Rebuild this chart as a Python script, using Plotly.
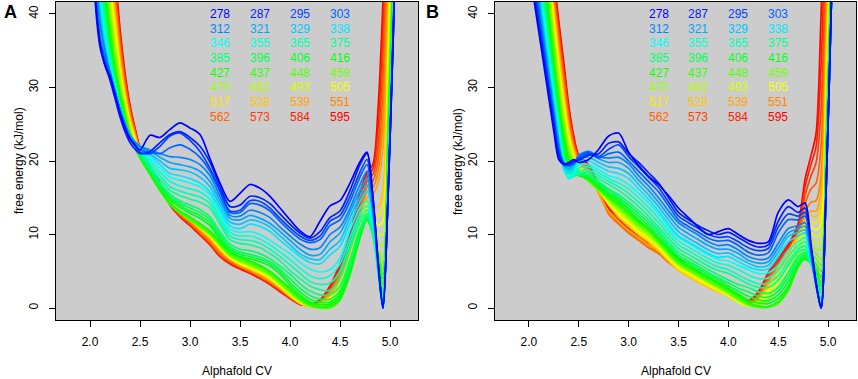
import colorsys
import plotly.graph_objects as go

# ---------------- data ----------------
TEMPS = [278, 287, 295, 303, 312, 321, 329, 338, 346, 355, 365, 375, 385, 396, 406, 416,
         427, 437, 448, 459, 470, 482, 493, 505, 517, 528, 539, 551, 562, 573, 584, 595]

X = [2.0, 2.05, 2.1, 2.15, 2.2, 2.25, 2.3, 2.35, 2.4, 2.45, 2.5,
     2.6, 2.7, 2.8, 2.9, 3.0, 3.1, 3.2, 3.3, 3.4, 3.5,
     3.6, 3.7, 3.8, 3.9, 4.0, 4.1, 4.2, 4.3, 4.4, 4.5,
     4.6, 4.7, 4.77, 4.83, 4.88, 4.93, 4.98, 5.03, 5.08]

X_TICKS = [2.0, 2.5, 3.0, 3.5, 4.0, 4.5, 5.0]
Y_TICKS = [0, 10, 20, 30, 40]

# Panel A free-energy profiles (kJ/mol), one list per temperature
A278 = [58, 43, 36, 33, 31.5, 29, 26.5, 24.5, 23, 22.2, 21.5,
        23.5, 23.2, 24.3, 25.2, 24.5, 23.6, 20.3, 17.0, 14.5, 15.6,
        16.8, 16.3, 15.2, 13.6, 12.0, 10.5, 9.7, 11.8, 13.9, 14.6,
        17.0, 19.9, 21.2, 15.0, 6.5, 0, 15, 36, 60]
A287 = [57, 42, 35.5, 33, 31, 28.5, 26, 24, 22.5, 21.6, 21.0,
        21.3, 22.5, 23.6, 24.0, 23.2, 22.0, 19.8, 16.5, 13.8, 14.0,
        15.2, 15.0, 14.2, 12.8, 11.4, 10.2, 9.5, 10.4, 12.3, 13.2,
        16.0, 19.5, 21.0, 15.0, 6.5, 0, 15, 36, 60]
A295 = [58, 43, 36, 33.5, 31.5, 29, 26.5, 24.5, 23, 22.0, 21.2,
        21.0, 22.0, 23.4, 23.8, 22.8, 21.3, 19.0, 16.0, 13.2, 13.3,
        14.6, 14.5, 13.6, 12.2, 10.9, 9.8, 9.2, 9.8, 11.8, 12.6,
        15.2, 18.5, 20.2, 14.5, 6.3, 0, 15, 36, 60]
A303 = [60, 44, 37, 34, 32, 29.5, 27, 25, 23.2, 22.2, 21.5,
        21.2, 21.0, 21.8, 22.2, 21.6, 20.5, 18.6, 15.8, 13.0, 13.0,
        14.2, 14.0, 13.2, 11.8, 10.5, 9.4, 8.9, 9.3, 11.2, 12.0,
        14.5, 17.8, 19.5, 14.0, 6.2, 0, 15, 36, 60]
A312 = [62, 46, 38.5, 35, 32, 29.5, 27, 25, 23.3, 22.5, 22.0,
        21.5, 21.0, 20.6, 20.5, 20.2, 19.5, 18.0, 15.2, 12.6, 12.5,
        13.3, 13.0, 12.3, 11.0, 9.8, 8.7, 8.0, 8.2, 10.0, 11.0,
        13.6, 16.8, 18.6, 13.5, 6.0, 0, 15.5, 37, 60]
A321 = [63, 47, 39, 35, 32, 29.5, 27, 25, 23.5, 22.6, 22.0,
        21.3, 20.5, 19.8, 19.5, 19.2, 18.6, 17.2, 14.6, 12.2, 12.0,
        12.6, 12.2, 11.5, 10.4, 9.2, 8.0, 7.2, 7.3, 9.0, 10.2,
        13.0, 16.0, 17.7, 13.0, 5.8, 0, 15.5, 37, 60]
A329 = [65, 48, 40, 35.5, 32, 29.5, 27, 25, 23.5, 22.6, 22.0,
        21.0, 20.0, 19.0, 18.8, 18.5, 17.8, 16.5, 14.0, 11.7, 11.4,
        12.0, 11.7, 11.0, 9.8, 8.6, 7.4, 6.7, 6.6, 8.0, 9.2,
        12.3, 15.2, 16.8, 12.5, 5.5, 0, 15.5, 37, 60]
A338 = [66, 49, 41, 36, 32.5, 29.5, 27, 25, 23.5, 22.6, 22.0,
        20.8, 19.5, 18.3, 18.0, 17.6, 17.0, 15.8, 13.4, 11.2, 10.8,
        11.4, 11.1, 10.4, 9.2, 8.1, 7.0, 6.2, 6.0, 7.2, 8.4,
        11.5, 14.5, 15.9, 12.0, 5.2, 0, 15.5, 37, 60]
A346 = [68, 51, 42, 36.5, 32.5, 29.5, 27, 25, 23.5, 22.6, 22.0,
        20.4, 19.0, 17.8, 17.4, 17.0, 16.5, 15.4, 13.0, 10.8, 10.3,
        10.4, 10.0, 9.2, 8.3, 7.4, 6.2, 5.3, 4.9, 5.2, 6.8,
        10.6, 13.6, 14.5, 11.3, 5.0, 0, 16, 38, 61]
A355 = [69, 52, 43, 37, 33, 30, 27, 25, 23.3, 22.4, 21.8,
        20.0, 18.5, 17.2, 16.6, 16.2, 15.8, 14.8, 12.4, 10.3, 9.8,
        9.8, 9.4, 8.6, 7.6, 6.6, 5.4, 4.4, 4.0, 4.4, 6.0,
        9.6, 12.8, 13.9, 11.0, 5.0, 0.2, 16, 38, 61]
A365 = [70, 54, 44, 38, 33.5, 30, 27.2, 25, 23.3, 22.2, 21.5,
        19.6, 18.0, 16.5, 15.9, 15.5, 15.1, 14.2, 11.9, 9.8, 9.3,
        9.2, 8.8, 8.0, 7.0, 5.9, 4.7, 3.6, 3.2, 3.4, 5.0,
        8.8, 12.2, 13.3, 10.6, 5.2, 0.5, 16.5, 38, 61]
A375 = [72, 55, 45, 38.5, 34, 30.5, 27.5, 25, 23.3, 22.1, 21.3,
        19.2, 17.5, 16.0, 15.3, 14.8, 14.4, 13.6, 11.4, 9.3, 8.8,
        8.6, 8.2, 7.4, 6.4, 5.1, 4.0, 3.0, 2.5, 2.4, 4.0,
        8.0, 11.6, 12.8, 10.4, 5.4, 0.8, 17, 39, 61]
A385 = [73, 56, 46, 39.5, 34.5, 31, 27.8, 25.2, 23.2, 22.0, 21.0,
        19.0, 17.0, 15.5, 14.6, 14.0, 13.4, 12.4, 10.4, 8.7, 8.0,
        7.8, 7.4, 6.7, 5.7, 4.6, 3.3, 2.3, 1.8, 1.8, 3.0,
        6.6, 10.8, 12.5, 9.8, 5.2, 1.2, 18, 40, 62]
A396 = [74, 58, 47, 40, 35, 31.5, 28, 25.3, 23.2, 21.9, 20.8,
        18.8, 16.8, 15.2, 14.3, 13.6, 13.0, 12.0, 10.0, 8.3, 7.6,
        7.3, 6.9, 6.3, 5.3, 4.0, 2.7, 1.7, 1.2, 1.2, 2.4,
        6.0, 10.4, 12.3, 9.9, 5.6, 1.8, 18.5, 41, 62]
A406 = [75, 59, 48, 41, 35.5, 31.5, 28.2, 25.5, 23.2, 21.8, 20.6,
        18.6, 16.6, 15.0, 14.0, 13.2, 12.6, 11.6, 9.6, 8.0, 7.3,
        7.0, 6.6, 6.0, 5.0, 3.5, 2.2, 1.2, 0.8, 0.8, 2.0,
        5.5, 10.0, 12.1, 10.0, 6.0, 2.5, 19, 41, 63]
A416 = [76, 60, 49, 42, 36, 32, 28.5, 25.6, 23.3, 21.8, 20.5,
        18.4, 16.4, 14.7, 13.7, 12.9, 12.2, 11.2, 9.3, 7.7, 7.0,
        6.7, 6.3, 5.7, 4.6, 3.1, 1.8, 0.8, 0.5, 0.5, 1.6,
        5.0, 9.7, 12.0, 10.0, 6.3, 3.2, 20, 42, 63]
A427 = [77, 62, 50.5, 43, 37, 32.5, 29, 26, 23.5, 21.9, 20.5,
        18.2, 16.0, 14.3, 13.2, 12.4, 11.5, 10.5, 9.0, 7.6, 6.9,
        6.4, 5.8, 5.0, 3.9, 2.7, 1.5, 0.6, 0.2, 0.3, 1.2,
        4.6, 9.5, 12.0, 10.0, 6.5, 4.0, 22, 44, 64]
A437 = [78, 63, 51.5, 44, 38, 33, 29.3, 26.2, 23.6, 21.9, 20.4,
        18.2, 16.0, 14.1, 13.0, 12.2, 11.3, 10.3, 8.8, 7.4, 6.7,
        6.2, 5.6, 4.8, 3.7, 2.5, 1.3, 0.4, 0.1, 0.1, 1.1,
        4.6, 9.6, 12.2, 10.2, 6.9, 4.6, 23, 45, 64]
A448 = [79, 64, 53, 45, 38.5, 33.5, 29.6, 26.4, 23.8, 22.0, 20.5,
        18.3, 16.1, 14.1, 12.9, 12.0, 11.1, 10.1, 8.6, 7.2, 6.5,
        6.0, 5.4, 4.6, 3.5, 2.3, 1.1, 0.3, 0, 0, 1.1,
        4.8, 9.7, 12.4, 10.4, 7.3, 5.3, 24, 46, 65]
A459 = [80, 66, 54, 46, 39.5, 34, 30, 26.6, 24, 22.1, 20.6,
        18.4, 16.2, 14.2, 12.9, 11.9, 11.0, 10.0, 8.5, 7.1, 6.4,
        5.9, 5.3, 4.5, 3.4, 2.2, 1.0, 0.2, 0, 0.1, 1.3,
        5.0, 9.8, 12.6, 10.6, 7.7, 6.0, 25, 47, 66]
A470 = [81, 67, 55.5, 47, 40.5, 35, 30.5, 27, 24.2, 22.3, 20.7,
        18.5, 16.3, 14.3, 13.0, 12.0, 11.0, 10.0, 8.5, 7.1, 6.4,
        5.8, 5.2, 4.4, 3.3, 2.1, 1.0, 0.3, 0.1, 0.3, 1.6,
        5.2, 9.8, 12.8, 10.8, 8.0, 7.0, 27, 48, 68]
A482 = [82, 68, 57, 48.5, 41.5, 36, 31, 27.5, 24.5, 22.5, 20.8,
        18.6, 16.4, 14.4, 13.1, 12.1, 11.0, 10.0, 8.4, 7.1, 6.3,
        5.7, 5.1, 4.3, 3.2, 2.0, 0.9, 0.3, 0.2, 0.5, 2.0,
        5.6, 10.2, 13.2, 11.5, 9.0, 8.5, 29, 50, 70]
A493 = [83, 70, 58, 49.5, 42.5, 36.5, 31.5, 27.8, 24.7, 22.7, 20.9,
        18.6, 16.4, 14.4, 13.2, 12.2, 11.0, 9.9, 8.3, 7.0, 6.2,
        5.6, 5.0, 4.2, 3.1, 1.9, 0.9, 0.3, 0.3, 0.8, 2.4,
        6.0, 10.6, 13.6, 12.2, 10.0, 10.0, 31, 52, 71]
A505 = [84, 71, 59.5, 50.5, 43.5, 37.5, 32, 28.2, 25, 22.9, 21.0,
        18.7, 16.5, 14.5, 13.2, 12.2, 11.0, 9.8, 8.2, 6.9, 6.1,
        5.5, 4.9, 4.1, 3.0, 1.8, 0.8, 0.2, 0.4, 1.0, 2.8,
        6.4, 11.0, 14.0, 12.9, 11.2, 11.8, 33, 54, 72]
A517 = [85, 72, 60.5, 51.5, 44.5, 38.5, 32.8, 28.6, 25.3, 23.1, 21.1,
        18.7, 16.5, 14.5, 13.1, 12.1, 10.9, 9.7, 8.1, 6.8, 6.0,
        5.4, 4.8, 4.0, 2.9, 1.8, 0.8, 0.2, 0.5, 1.3, 3.2,
        6.8, 11.4, 14.3, 13.5, 12.4, 13.8, 35, 56, 74]
A528 = [86, 73, 62, 53, 45.5, 39.5, 33.5, 29, 25.6, 23.3, 21.2,
        18.8, 16.6, 14.6, 13.1, 12.0, 10.8, 9.6, 8.0, 6.7, 5.9,
        5.3, 4.7, 3.9, 2.8, 1.7, 0.7, 0.2, 0.6, 1.6, 3.6,
        7.2, 11.8, 14.6, 14.0, 13.6, 16.0, 38, 58, 75]
A539 = [87, 74, 63, 54, 46.5, 40.5, 34.2, 29.5, 26, 23.5, 21.3,
        18.8, 16.6, 14.5, 13.0, 11.9, 10.6, 9.4, 7.8, 6.6, 5.8,
        5.2, 4.5, 3.7, 2.7, 1.6, 0.6, 0.2, 0.6, 1.8, 4.0,
        7.6, 12.0, 15.0, 15.5, 17.0, 22, 42, 62, 78]
A551 = [88, 75, 64, 55, 47.5, 41.5, 35, 30, 26.3, 23.7, 21.4,
        18.9, 16.7, 14.4, 12.9, 11.8, 10.5, 9.2, 7.6, 6.5, 5.7,
        5.1, 4.4, 3.6, 2.6, 1.5, 0.6, 0.2, 0.7, 2.1, 4.4,
        8.0, 12.8, 15.8, 16.4, 18.5, 26, 48, 68, 80]
A562 = [89, 76, 65, 56, 48.5, 42.5, 35.8, 30.5, 26.6, 23.9, 21.5,
        19.0, 16.8, 14.3, 12.7, 11.6, 10.3, 9.0, 7.4, 6.4, 5.6,
        5.0, 4.3, 3.5, 2.5, 1.5, 0.6, 0.3, 0.8, 2.3, 4.8,
        8.5, 13.5, 16.5, 17.3, 20.0, 30, 53, 72, 82]
A573 = [90, 77, 66, 57, 49.5, 43.5, 36.5, 31, 27, 24.1, 21.6,
        19.0, 16.8, 14.2, 12.6, 11.4, 10.1, 8.8, 7.2, 6.2, 5.5,
        4.9, 4.2, 3.4, 2.4, 1.4, 0.6, 0.3, 0.9, 2.5, 5.2,
        9.0, 14.2, 17.2, 18.2, 22.0, 34, 57, 76, 85]
A584 = [91, 78, 67, 58, 50.5, 44.5, 37.3, 31.5, 27.3, 24.3, 21.7,
        19.1, 16.9, 14.1, 12.5, 11.3, 10.0, 8.7, 7.1, 6.1, 5.4,
        4.8, 4.1, 3.3, 2.3, 1.3, 0.5, 0.4, 1.0, 2.7, 5.6,
        9.5, 15.0, 17.8, 19.0, 24.5, 38, 60, 80, 88]
A595 = [92, 79, 68, 59, 51.5, 45.5, 38, 32, 27.6, 24.5, 21.8,
        19.2, 17.0, 14.0, 12.4, 11.2, 9.9, 8.6, 7.0, 6.0, 5.3,
        4.7, 4.0, 3.2, 2.2, 1.3, 0.5, 0.4, 1.1, 3.0, 6.0,
        10.0, 15.8, 18.4, 19.6, 27.0, 42, 64, 84, 90]

# Panel B free-energy profiles (kJ/mol)
B278 = [47, 42, 37.5, 33, 28.5, 24, 20.2, 19.6, 19.8, 20.2, 19.8,
        20.2, 21.6, 23.4, 23.8, 21.2, 19.4, 17.9, 16.8, 15.3, 13.6,
        12.3, 11.0, 10.0, 10.4, 10.8, 10.0, 9.2, 8.8, 9.0, 13.0,
        14.7, 13.8, 14.3, 8.5, 3.5, 0, 16, 40, 65]
B287 = [48, 43, 38.5, 34, 29.5, 25, 20.8, 19.5, 19.6, 20.0, 20.1,
        20.8, 21.0, 22.4, 22.6, 21.0, 19.8, 18.4, 17.0, 15.0, 13.0,
        12.0, 11.2, 10.5, 10.0, 10.3, 9.6, 8.8, 8.3, 8.6, 11.8,
        13.8, 13.0, 13.6, 8.2, 3.4, 0, 16, 40, 65]
B295 = [49, 44, 39.2, 34.6, 30, 25.5, 21.2, 19.6, 19.5, 19.8, 20.3,
        21.0, 20.6, 21.6, 22.2, 20.6, 19.2, 17.8, 16.4, 14.4, 12.5,
        11.6, 10.8, 10.0, 9.6, 9.7, 9.0, 8.2, 7.8, 8.1, 11.0,
        12.8, 12.5, 13.0, 8.0, 3.3, 0, 16, 40, 65]
B303 = [50, 45, 40, 35.3, 30.6, 26, 21.6, 19.8, 19.4, 19.6, 20.5,
        21.2, 20.4, 21.0, 21.2, 20.0, 18.6, 17.2, 15.8, 13.9, 12.0,
        11.1, 10.3, 9.5, 9.1, 9.2, 8.5, 7.6, 7.2, 7.5, 10.2,
        12.0, 12.0, 12.5, 7.8, 3.2, 0, 16, 40, 65]
B312 = [51, 46, 41, 36, 31.2, 26.5, 22.0, 19.6, 19.3, 19.7, 20.8,
        21.3, 20.6, 20.4, 20.5, 19.6, 18.0, 16.6, 15.0, 13.2, 11.6,
        10.7, 9.9, 9.0, 8.5, 8.6, 7.9, 7.0, 6.6, 6.8, 8.8,
        10.8, 11.2, 11.6, 7.2, 3.0, 0, 16, 40, 65]
B321 = [52, 47, 41.8, 36.8, 31.8, 27, 22.4, 19.5, 19.0, 19.6, 20.7,
        21.0, 20.3, 19.8, 19.8, 19.0, 17.4, 16.0, 14.4, 12.6, 11.0,
        10.1, 9.3, 8.5, 8.0, 8.0, 7.4, 6.5, 6.1, 6.3, 8.2,
        10.2, 10.8, 11.1, 7.0, 3.0, 0.1, 16, 40, 65]
B329 = [53, 48, 42.6, 37.4, 32.3, 27.5, 22.8, 19.3, 18.7, 19.3, 20.4,
        20.5, 19.8, 19.2, 19.0, 18.3, 16.8, 15.4, 13.8, 12.0, 10.4,
        9.5, 8.7, 7.9, 7.4, 7.5, 6.8, 6.1, 5.6, 5.8, 7.6,
        9.7, 10.3, 10.6, 6.8, 3.1, 0.2, 16.5, 40, 65]
B338 = [54, 49, 43.4, 38, 33, 28, 23.2, 19.0, 18.3, 18.9, 20.0,
        20.0, 19.3, 18.6, 18.3, 17.6, 16.2, 14.8, 13.2, 11.4, 9.8,
        9.0, 8.2, 7.4, 6.9, 7.0, 6.3, 5.6, 5.2, 5.3, 7.0,
        9.0, 9.8, 10.2, 6.6, 3.2, 0.3, 16.5, 40, 65]
B346 = [55, 50, 44.3, 38.8, 33.6, 28.5, 23.5, 18.8, 17.8, 18.4, 19.5,
        19.5, 18.8, 18.0, 17.6, 16.8, 15.6, 14.3, 12.8, 11.0, 9.6,
        8.8, 8.0, 7.2, 6.6, 6.4, 5.8, 5.2, 4.7, 4.8, 5.8,
        7.8, 9.0, 9.6, 6.4, 3.2, 0.4, 17, 41, 65]
B355 = [56, 51, 45, 39.5, 34.2, 29, 24, 19.0, 17.6, 18.2, 19.0,
        19.2, 18.4, 17.6, 17.0, 16.2, 15.0, 13.7, 12.2, 10.5, 9.1,
        8.3, 7.5, 6.7, 6.1, 5.8, 5.2, 4.5, 4.0, 4.1, 5.1,
        7.0, 8.5, 9.0, 6.2, 3.4, 0.6, 17, 41, 65]
B365 = [57, 52, 46, 40.2, 34.8, 29.5, 24.5, 19.4, 17.6, 18.0, 18.6,
        18.8, 18.0, 17.2, 16.5, 15.6, 14.4, 13.1, 11.6, 10.0, 8.6,
        7.8, 7.0, 6.2, 5.6, 5.2, 4.5, 3.8, 3.3, 3.4, 4.4,
        6.3, 8.0, 8.4, 6.0, 3.6, 0.9, 17.5, 41, 65]
B375 = [58, 53, 47, 41, 35.5, 30, 25, 20, 17.8, 17.9, 18.3,
        18.5, 17.6, 16.8, 16.0, 15.0, 13.8, 12.5, 11.0, 9.5, 8.1,
        7.3, 6.5, 5.7, 5.1, 4.7, 4.0, 3.3, 2.8, 2.8, 3.8,
        5.8, 7.6, 7.9, 5.9, 3.8, 1.2, 18, 42, 66]
B385 = [59, 54, 48, 42, 36.2, 30.6, 25.5, 20.8, 18.3, 18.0, 18.2,
        18.2, 17.2, 16.2, 15.4, 14.4, 13.2, 12.0, 10.6, 9.0, 7.6,
        6.8, 6.0, 5.2, 4.5, 3.8, 3.2, 2.8, 2.2, 2.0, 2.8,
        4.8, 7.0, 7.5, 6.0, 4.0, 2.0, 19, 42, 66]
B396 = [60, 55, 49, 43, 37, 31.2, 26, 21.4, 18.8, 18.1, 18.1,
        18.0, 17.0, 16.0, 15.1, 14.0, 12.8, 11.6, 10.2, 8.6, 7.2,
        6.4, 5.6, 4.8, 4.1, 3.4, 2.7, 2.2, 1.6, 1.5, 2.3,
        4.2, 6.6, 7.2, 6.0, 4.3, 2.5, 19.5, 43, 66]
B406 = [61, 56, 50, 44, 37.8, 31.8, 26.5, 22, 19.2, 18.3, 18.0,
        17.8, 16.8, 15.7, 14.8, 13.6, 12.4, 11.2, 9.8, 8.3, 6.9,
        6.1, 5.3, 4.5, 3.8, 3.0, 2.3, 1.6, 1.1, 1.0, 1.8,
        3.6, 6.2, 6.9, 6.0, 4.6, 3.0, 20, 43, 67]
B416 = [62, 57, 51, 44.8, 38.6, 32.5, 27, 22.5, 19.6, 18.5, 18.0,
        17.6, 16.6, 15.5, 14.5, 13.3, 12.0, 10.8, 9.4, 8.0, 6.6,
        5.8, 5.0, 4.2, 3.5, 2.7, 1.9, 1.1, 0.7, 0.6, 1.3,
        3.0, 5.8, 6.6, 6.0, 4.9, 3.5, 20.5, 44, 67]
B427 = [63, 58, 52, 45.6, 39.4, 33.2, 27.6, 23, 20, 18.8, 18.1,
        17.5, 16.3, 15.2, 14.2, 13.0, 11.8, 10.8, 9.4, 7.9, 6.5,
        5.7, 4.9, 4.1, 3.4, 2.6, 1.7, 0.8, 0.3, 0.2, 0.9,
        2.6, 5.6, 6.8, 6.4, 5.4, 4.2, 21, 44, 67]
B437 = [64, 59, 53, 46.5, 40.2, 34, 28.2, 23.6, 20.4, 19.0, 18.2,
        17.4, 16.2, 15.0, 14.0, 12.8, 11.6, 10.6, 9.2, 7.7, 6.3,
        5.5, 4.7, 3.9, 3.2, 2.4, 1.5, 0.6, 0.2, 0.1, 0.7,
        2.4, 5.6, 7.0, 6.8, 6.0, 5.0, 21.5, 45, 68]
B448 = [65, 60, 54, 47.4, 41, 34.8, 28.8, 24.2, 20.8, 19.2, 18.3,
        17.3, 16.1, 14.9, 13.8, 12.6, 11.4, 10.4, 9.0, 7.5, 6.1,
        5.3, 4.5, 3.7, 3.0, 2.2, 1.3, 0.5, 0.1, 0.1, 0.6,
        2.4, 5.8, 7.4, 7.3, 6.7, 5.8, 22, 45, 68]
B459 = [66, 61, 55, 48.3, 41.8, 35.5, 29.5, 24.8, 21.2, 19.5, 18.4,
        17.2, 16.0, 14.8, 13.6, 12.4, 11.2, 10.2, 8.8, 7.3, 5.9,
        5.1, 4.3, 3.5, 2.8, 2.0, 1.1, 0.4, 0.1, 0.2, 0.8,
        2.6, 6.1, 7.9, 7.9, 7.4, 6.6, 23, 46, 69]
B470 = [67, 62, 56, 49.2, 42.6, 36.3, 30.2, 25.4, 21.6, 19.8, 18.6,
        17.5, 16.0, 14.6, 13.4, 12.2, 11.0, 10.0, 8.8, 7.4, 6.1,
        5.3, 4.5, 3.7, 2.9, 2.2, 1.3, 0.5, 0.2, 1.0, 2.4,
        4.2, 7.0, 8.6, 8.6, 8.0, 8.0, 25, 48, 70]
B482 = [68, 63, 57, 50.2, 43.5, 37, 31, 26, 22, 20.0, 18.8,
        17.6, 16.0, 14.5, 13.2, 12.0, 10.8, 9.8, 8.6, 7.2, 5.9,
        5.1, 4.3, 3.5, 2.7, 2.0, 1.1, 0.4, 0.3, 1.4, 3.0,
        4.9, 7.6, 9.3, 9.4, 8.8, 9.0, 26, 49, 70]
B493 = [69, 64, 58, 51.2, 44.4, 37.8, 31.8, 26.6, 22.5, 20.3, 19.0,
        17.7, 16.0, 14.4, 13.0, 11.8, 10.6, 9.6, 8.4, 7.0, 5.7,
        4.9, 4.1, 3.3, 2.5, 1.8, 0.9, 0.3, 0.4, 1.8, 3.6,
        5.6, 8.2, 10.0, 10.2, 9.7, 10.2, 28, 50, 71]
B505 = [70, 65, 59, 52.2, 45.3, 38.6, 32.6, 27.3, 23, 20.6, 19.2,
        17.8, 16.0, 14.3, 12.8, 11.6, 10.4, 9.4, 8.2, 6.8, 5.5,
        4.7, 3.9, 3.1, 2.4, 1.7, 0.8, 0.3, 0.6, 2.2, 4.2,
        6.3, 8.8, 10.7, 11.0, 10.6, 11.5, 29, 51, 72]
B517 = [71, 66, 60, 53.2, 46.2, 39.4, 33.4, 28, 23.5, 20.9, 19.4,
        17.9, 16.0, 14.2, 12.6, 11.4, 10.2, 9.2, 8.0, 6.6, 5.3,
        4.5, 3.7, 3.0, 2.3, 1.6, 0.8, 0.3, 0.8, 2.6, 4.8,
        7.0, 9.4, 11.4, 11.8, 11.5, 12.8, 31, 52, 72]
B528 = [72, 67, 61, 54.2, 47.1, 40.2, 34.2, 28.7, 24, 21.2, 19.6,
        18.0, 16.0, 14.0, 12.4, 11.2, 10.0, 9.0, 7.8, 6.4, 5.1,
        4.3, 3.5, 2.8, 2.2, 1.6, 0.8, 0.4, 1.0, 3.0, 5.4,
        7.6, 10.0, 12.0, 12.6, 12.4, 14.0, 33, 54, 73]
B539 = [73, 68, 62, 55.2, 48, 41, 35, 29.4, 24.5, 21.5, 19.8,
        18.5, 15.5, 13.2, 11.8, 10.6, 9.6, 8.6, 7.8, 6.6, 5.6,
        4.8, 4.0, 3.3, 2.6, 1.9, 1.1, 0.5, 1.2, 3.2, 5.0,
        6.6, 9.0, 12.0, 13.2, 13.2, 16, 36, 56, 75]
B551 = [74, 69, 63, 56.2, 49, 41.8, 35.8, 30.2, 25.1, 21.8, 20.0,
        18.7, 15.6, 13.0, 11.6, 10.4, 9.4, 8.4, 7.6, 6.4, 5.4,
        4.6, 3.8, 3.1, 2.4, 1.8, 1.0, 0.5, 1.4, 3.6, 5.5,
        7.0, 9.5, 13.0, 14.4, 14.6, 18, 40, 60, 78]
B562 = [75, 70, 64, 57.2, 50, 42.6, 36.6, 31, 25.7, 22.2, 20.2,
        18.9, 15.8, 12.8, 11.4, 10.2, 9.2, 8.2, 7.4, 6.2, 5.2,
        4.4, 3.6, 2.9, 2.3, 1.7, 1.0, 0.6, 1.6, 3.9, 5.9,
        7.5, 10.0, 14.2, 16.2, 17.0, 22, 45, 64, 80]
B573 = [76, 71, 65, 58.2, 51, 43.4, 37.4, 31.8, 26.3, 22.6, 20.4,
        19.1, 16.0, 13.0, 11.6, 10.4, 9.4, 8.4, 7.8, 6.8, 5.8,
        4.9, 4.0, 3.2, 2.5, 1.8, 1.1, 0.8, 1.8, 4.2, 6.2,
        7.9, 10.5, 15.4, 18.0, 19.8, 27, 50, 68, 82]
B584 = [77, 72, 66, 59.2, 52, 44.2, 38.2, 32.6, 26.9, 23.0, 20.6,
        19.3, 16.2, 13.3, 12.0, 10.8, 9.8, 8.8, 8.2, 7.3, 6.3,
        5.3, 4.3, 3.4, 2.6, 1.9, 1.2, 0.9, 2.0, 4.5, 6.5,
        8.3, 11.0, 16.6, 19.6, 22.0, 33, 55, 72, 85]
B595 = [78, 73, 67, 60.2, 53, 45, 39, 33.4, 27.5, 23.4, 20.8,
        19.5, 16.5, 13.6, 12.4, 11.2, 10.2, 9.2, 8.6, 7.8, 6.8,
        5.7, 4.6, 3.6, 2.8, 2.0, 1.3, 1.0, 2.2, 4.8, 6.8,
        8.6, 11.5, 17.6, 20.8, 23.8, 40, 60, 76, 88]

PANEL_A = [A278, A287, A295, A303, A312, A321, A329, A338, A346, A355, A365, A375,
           A385, A396, A406, A416, A427, A437, A448, A459, A470, A482, A493, A505,
           A517, A528, A539, A551, A562, A573, A584, A595]
PANEL_B = [B278, B287, B295, B303, B312, B321, B329, B338, B346, B355, B365, B375,
           B385, B396, B406, B416, B427, B437, B448, B459, B470, B482, B493, B505,
           B517, B528, B539, B551, B562, B573, B584, B595]

# legend grid positions (data coordinates, as placed with text())
LEG_X = [3.3, 3.7, 4.1, 4.5]
LEG_Y = [40, 38, 36, 34, 32, 30, 28, 26]

# ---------------- styling ----------------
W, H = 858, 379
FONT = "Liberation Sans, Arial, Helvetica, sans-serif"
BG = "#CCCCCC"
n = len(TEMPS)


def rainbow(i):
    h = (n - 1 - i) / (n - 1) * (4.0 / 6.0)
    r, g, b = colorsys.hsv_to_rgb(h, 1.0, 1.0)
    return "rgb(%d,%d,%d)" % (round(r * 255), round(g * 255), round(b * 255))


COLORS = [rainbow(i) for i in range(n)]

fig = go.Figure()
for panel, (xa, ya) in ((PANEL_A, ("x", "y")), (PANEL_B, ("x2", "y2"))):
    for i in reversed(range(n)):
        fig.add_trace(go.Scatter(
            x=X, y=panel[i], mode="lines", xaxis=xa, yaxis=ya,
            line=dict(color=COLORS[i], width=1.7, shape="spline", smoothing=0.8),
            hoverinfo="skip", showlegend=False))

ytop = 1 - 2 / H
ybot = 1 - 320 / H
XDOM_A = [56 / W, 418 / W]
XDOM_B = [495 / W, 856 / W]

axis_common = dict(
    showline=True, mirror=True, linecolor="black", linewidth=1,
    ticks="outside", ticklen=6, tickwidth=1, tickcolor="black",
    showgrid=False, zeroline=False,
    tickfont=dict(family=FONT, size=12, color="black"),
)
xcommon = dict(axis_common, range=[1.66, 5.28], tickvals=X_TICKS,
               ticktext=["%.1f" % v for v in X_TICKS], ticklabelstandoff=5)
ycommon = dict(axis_common, range=[-1.63, 41.63], tickvals=Y_TICKS,
               ticktext=[str(v) for v in Y_TICKS], tickangle=-90, ticklabelstandoff=6)

fig.update_layout(
    width=W, height=H, autosize=False,
    margin=dict(l=0, r=0, t=0, b=0),
    paper_bgcolor="white", plot_bgcolor=BG,
    font=dict(family=FONT, size=12, color="black"),
    hovermode=False,
    xaxis=dict(xcommon, domain=XDOM_A, anchor="y"),
    yaxis=dict(ycommon, domain=[ybot, ytop], anchor="x"),
    xaxis2=dict(xcommon, domain=XDOM_B, anchor="y2"),
    yaxis2=dict(ycommon, domain=[ybot, ytop], anchor="x2"),
)

ann = []
for (xr, yr) in (("x", "y"), ("x2", "y2")):
    for k, t in enumerate(TEMPS):
        r, c = divmod(k, 4)
        ann.append(dict(x=LEG_X[c], y=LEG_Y[r], xref=xr, yref=yr, text=str(t),
                        showarrow=False, xanchor="center", yanchor="middle",
                        font=dict(family=FONT, size=12, color=COLORS[k])))

for dom, letter, lx in ((XDOM_A, "A", 10 / W), (XDOM_B, "B", 433 / W)):
    cx = (dom[0] + dom[1]) / 2
    ann.append(dict(x=cx, y=1 - 371 / H, xref="paper", yref="paper", text="Alphafold CV",
                    showarrow=False, xanchor="center", yanchor="middle",
                    font=dict(family=FONT, size=12, color="black")))
    ann.append(dict(x=dom[0] - 37 / W, y=1 - 161 / H, xref="paper", yref="paper",
                    text="free energy (kJ/mol)", textangle=-90, showarrow=False,
                    xanchor="center", yanchor="middle",
                    font=dict(family=FONT, size=12, color="black")))
    ann.append(dict(x=lx, y=1 - 11.5 / H, xref="paper", yref="paper", text="<b>%s</b>" % letter,
                    showarrow=False, xanchor="center", yanchor="middle",
                    font=dict(family=FONT, size=18, color="black")))

fig.update_layout(annotations=ann)
# remove the browser's default 8px page margin so the figure sits at (0, 0)
fig.write_html("out.html", config={"displayModeBar": False, "staticPlot": True},
               post_script="document.body.style.margin='0';")
